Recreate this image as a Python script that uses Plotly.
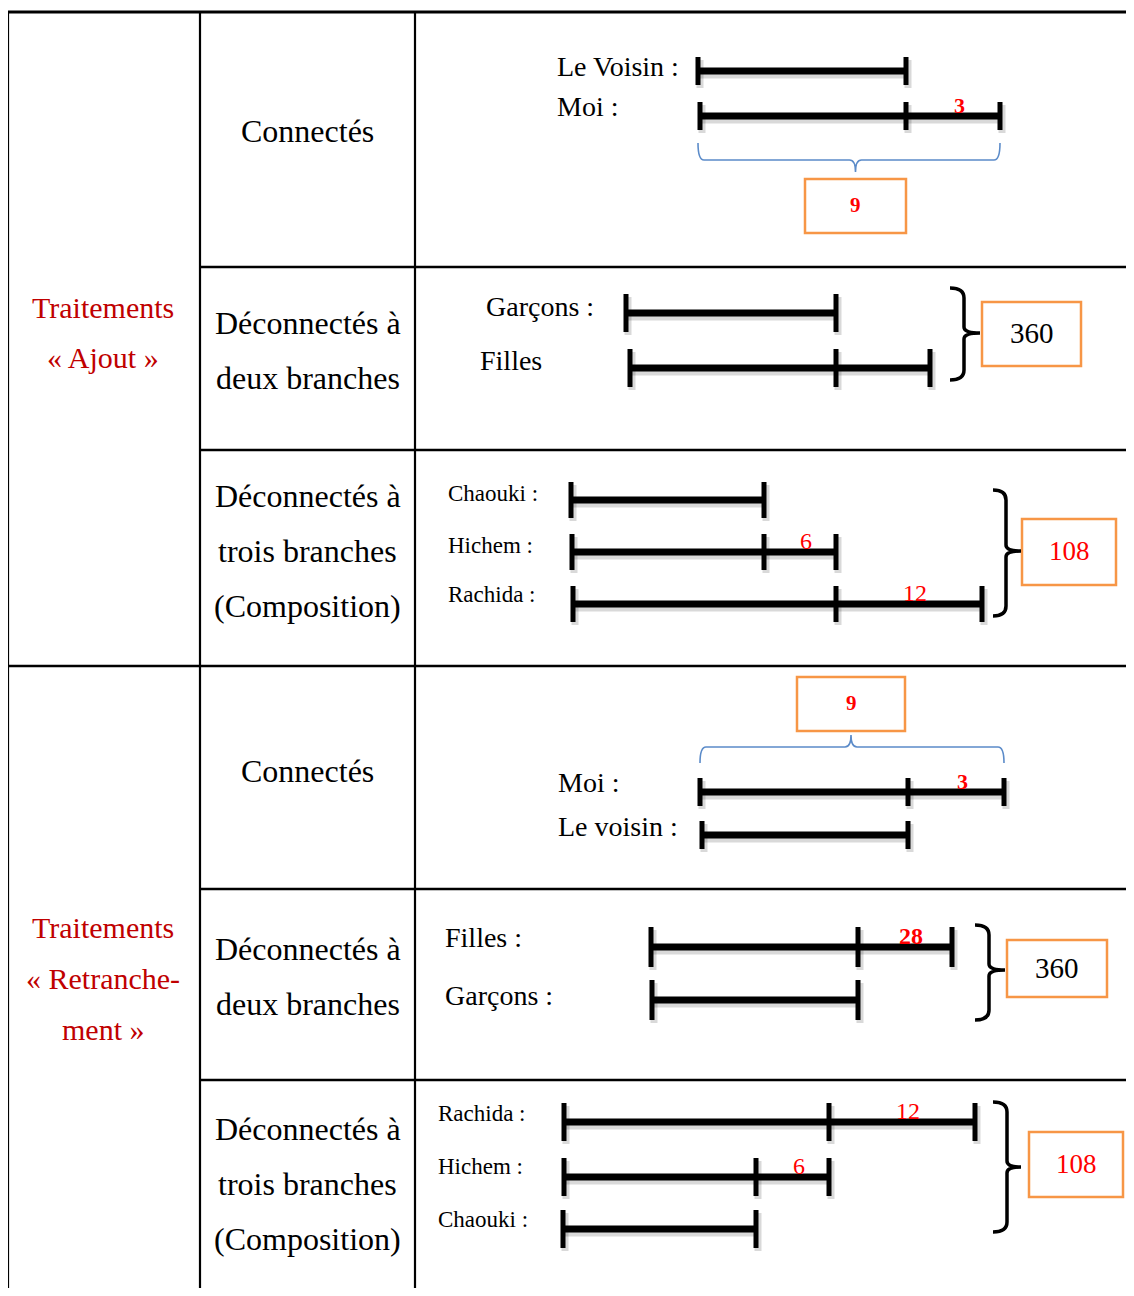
import plotly.graph_objects as go

# ---------------- DATA ----------------
# Left column (treatment groups)
group_labels = [["Traitements", "« Ajout »"],
                ["Traitements", "« Retranche-", "ment »"]]
# Middle column (cell types)
cell_labels = [["Connectés"],
               ["Déconnectés à", "deux branches"],
               ["Déconnectés à", "trois branches", "(Composition)"],
               ["Connectés"],
               ["Déconnectés à", "deux branches"],
               ["Déconnectés à", "trois branches", "(Composition)"]]

# Diagram rows: names, bar start, common part end, bar end, difference label
r1_names = ["Le Voisin :", "Moi :"]
r1_start = [698, 700]
r1_common = [906, 906]
r1_end = [906, 1000]
r1_diff = ["", "3"]
r1_total = "9"

r2_names = ["Garçons :", "Filles"]
r2_start = [626, 630]
r2_common = [836, 836]
r2_end = [836, 930]
r2_diff = ["", ""]
r2_total = "360"

r3_names = ["Chaouki :", "Hichem :", "Rachida :"]
r3_start = [571, 572, 573]
r3_common = [764, 764, 836]
r3_end = [764, 836, 982]
r3_diff = ["", "6", "12"]
r3_total = "108"

r4_names = ["Moi :", "Le voisin :"]
r4_start = [700, 702]
r4_common = [908, 908]
r4_end = [1004, 908]
r4_diff = ["3", ""]
r4_total = "9"

r5_names = ["Filles :", "Garçons :"]
r5_start = [651, 652]
r5_common = [858, 858]
r5_end = [952, 858]
r5_diff = ["28", ""]
r5_total = "360"

r6_names = ["Rachida :", "Hichem :", "Chaouki :"]
r6_start = [564, 564, 563]
r6_common = [829, 756, 756]
r6_end = [975, 829, 756]
r6_diff = ["12", "6", ""]
r6_total = "108"

# ---------------- LAYOUT CONSTANTS ----------------
W, H = 1134, 1296
PAGE_MARGIN = 8  # browser body margin
X_LEFT, X_C1, X_C2, X_RIGHT = 8, 200, 415, 1134
ROW_Y = [12, 267, 450, 666, 889, 1080, 1296]

RED_DARK = "#C00000"
RED = "#FF0000"
ORANGE = "#F79646"
BLUE = "#5B8BC9"
SERIF = "Liberation Serif, Times New Roman, serif"

panels = [
    dict(names=r1_names, start=r1_start, common=r1_common, end=r1_end, diff=r1_diff, total=r1_total,
         y=[71, 116], ly=[66, 106], lx=[555, 555], lsize=28, th=14, dsize=22, dbold=True,
         total_style="blue_below", box=(805, 179, 906, 233), tsize=21, tcolor=RED, tbold=True),
    dict(names=r2_names, start=r2_start, common=r2_common, end=r2_end, diff=r2_diff, total=r2_total,
         y=[313, 368], ly=[306, 360], lx=[484, 478], lsize=28, th=19, dsize=22, dbold=False,
         total_style="black", bx=(950, 964, 980), by=(288, 333, 380), box=(982, 302, 1081, 366),
         tsize=29, tcolor="black", tbold=False),
    dict(names=r3_names, start=r3_start, common=r3_common, end=r3_end, diff=r3_diff, total=r3_total,
         y=[500, 552, 604], ly=[493, 545, 594], lx=[446, 446, 446], lsize=23, th=18, dsize=24, dbold=False,
         total_style="black", bx=(993, 1006, 1021), by=(490, 551, 616), box=(1022, 519, 1116, 585),
         tsize=27, tcolor=RED, tbold=False),
    dict(names=r4_names, start=r4_start, common=r4_common, end=r4_end, diff=r4_diff, total=r4_total,
         y=[792, 835], ly=[782, 826], lx=[556, 556], lsize=28, th=14, dsize=22, dbold=True,
         total_style="blue_above", box=(797, 677, 905, 731), tsize=21, tcolor=RED, tbold=True),
    dict(names=r5_names, start=r5_start, common=r5_common, end=r5_end, diff=r5_diff, total=r5_total,
         y=[947, 1000], ly=[937, 995], lx=[443, 443], lsize=28, th=20, dsize=24, dbold=True,
         total_style="black", bx=(975, 989, 1005), by=(925, 970, 1020), box=(1007, 940, 1107, 997),
         tsize=29, tcolor="black", tbold=False),
    dict(names=r6_names, start=r6_start, common=r6_common, end=r6_end, diff=r6_diff, total=r6_total,
         y=[1122, 1177, 1229], ly=[1113, 1166, 1219], lx=[436, 436, 436], lsize=23, th=19, dsize=24, dbold=False,
         total_style="black", bx=(993, 1007, 1021), by=(1102, 1167, 1232), box=(1029, 1132, 1123, 1197),
         tsize=27, tcolor=RED, tbold=False),
]

fig = go.Figure()
shapes = []
annotations = []

# ---------------- TABLE GRID ----------------
def hline(y, x0, x1, w=2.2):
    shapes.append(dict(type="line", xref="x", yref="y", x0=x0, x1=x1, y0=y, y1=y,
                       line=dict(color="black", width=w)))

def vline(x, y0, y1, w=2.2):
    shapes.append(dict(type="line", xref="x", yref="y", x0=x, x1=x, y0=y0, y1=y1,
                       line=dict(color="black", width=w)))

hline(ROW_Y[0], X_LEFT, X_RIGHT, 3)
for i, y in enumerate(ROW_Y[1:-1], start=1):
    if i == 3:
        hline(y, X_LEFT, X_RIGHT, 2.5)
    else:
        hline(y, X_C1, X_RIGHT, 2.5)
vline(X_LEFT, ROW_Y[0], H)
vline(X_C1, ROW_Y[0], H)
vline(X_C2, ROW_Y[0], H)

# ---------------- LEFT COLUMN TEXT ----------------
group_centers = [[307, 357], [927, 978, 1029]]
for lines, ys in zip(group_labels, group_centers):
    for t, y in zip(lines, ys):
        annotations.append(dict(x=(X_LEFT + X_C1) / 2 - 1, y=y, text=t, showarrow=False,
                                xanchor="center", yanchor="middle",
                                font=dict(family=SERIF, size=30, color=RED_DARK)))

# ---------------- MIDDLE COLUMN TEXT ----------------
cell_centers = [[131], [323, 378], [496, 551, 606], [771], [949, 1004], [1129, 1184, 1239]]
for lines, ys in zip(cell_labels, cell_centers):
    for t, y in zip(lines, ys):
        annotations.append(dict(x=(X_C1 + X_C2) / 2, y=y, text=t, showarrow=False,
                                xanchor="center", yanchor="middle",
                                font=dict(family=SERIF, size=32, color="black")))

# ---------------- DIAGRAMS ----------------
for p in panels:
    n = len(p["names"])
    for i in range(n):
        y = p["y"][i]
        xs, xc, xe = p["start"][i], p["common"][i], p["end"][i]
        ticks = [xs, xc] if xc == xe else [xs, xc, xe]
        # soft shadow
        tx, ty = [], []
        for t in ticks:
            tx += [t + 2, t + 2, None]
            ty += [y - p["th"] + 3, y + p["th"] + 3, None]
        fig.add_trace(go.Scatter(x=[xs + 2, xe + 2], y=[y + 3, y + 3], mode="lines",
                                 line=dict(color="rgba(0,0,0,0.15)", width=9), hoverinfo="skip"))
        fig.add_trace(go.Scatter(x=tx, y=ty, mode="lines",
                                 line=dict(color="rgba(0,0,0,0.15)", width=7), hoverinfo="skip"))
        # bar
        fig.add_trace(go.Scatter(x=[xs, xe], y=[y, y], mode="lines",
                                 line=dict(color="black", width=7), hoverinfo="skip"))
        tx, ty = [], []
        for t in ticks:
            tx += [t, t, None]
            ty += [y - p["th"], y + p["th"], None]
        fig.add_trace(go.Scatter(x=tx, y=ty, mode="lines",
                                 line=dict(color="black", width=5), hoverinfo="skip"))
        # name label
        annotations.append(dict(x=p["lx"][i], y=p["ly"][i], text=p["names"][i], showarrow=False,
                                xanchor="left", yanchor="middle",
                                font=dict(family=SERIF, size=p["lsize"], color="black")))
        # difference label
        if p["diff"][i]:
            d = p["diff"][i]
            txt = f"<b>{d}</b>" if p["dbold"] else d
            annotations.append(dict(x=(xc + xe) / 2 + 6, y=y - 11, text=txt, showarrow=False,
                                    xanchor="center", yanchor="middle",
                                    font=dict(family=SERIF, size=p["dsize"], color=RED)))

    # total brace + box
    bx0, by0, bx1, by1 = p["box"]
    shapes.append(dict(type="rect", xref="x", yref="y", x0=bx0, x1=bx1, y0=by0, y1=by1,
                       line=dict(color=ORANGE, width=2.5), fillcolor="white"))
    ttxt = f"<b>{p['total']}</b>" if p["tbold"] else p["total"]
    annotations.append(dict(x=(bx0 + bx1) / 2, y=(by0 + by1) / 2 - 1, text=ttxt, showarrow=False,
                            xanchor="center", yanchor="middle",
                            font=dict(family=SERIF, size=p["tsize"], color=p["tcolor"])))

    if p["total_style"].startswith("blue"):
        xa = min(p["start"])
        xb = max(p["end"])
        xm = (bx0 + bx1) / 2
        r = 6
        if p["total_style"] == "blue_below":
            ya, yb, yt = 143, 160, 172
        else:
            ya, yb, yt = 763, 747, 735
        path = (f"M {xa},{ya} Q {xa},{yb} {xa + r},{yb} L {xm - r},{yb} "
                f"Q {xm},{yb} {xm},{yt} Q {xm},{yb} {xm + r},{yb} L {xb - r},{yb} "
                f"Q {xb},{yb} {xb},{ya}")
        shapes.append(dict(type="path", xref="x", yref="y", path=path,
                           line=dict(color=BLUE, width=1.6)))
    else:
        ex, vx, tx_ = p["bx"]
        ty0, tm, ty1 = p["by"]
        r = 10
        path = (f"M {ex},{ty0} Q {vx},{ty0} {vx},{ty0 + r} L {vx},{tm - 6} "
                f"Q {vx},{tm} {tx_},{tm} Q {vx},{tm} {vx},{tm + 6} L {vx},{ty1 - r} "
                f"Q {vx},{ty1} {ex},{ty1}")
        shapes.append(dict(type="path", xref="x", yref="y", path=path,
                           line=dict(color="black", width=3.5)))

# Figure is placed after the page's 8px body margin; axis ranges compensate so
# that one data unit equals one screen pixel at the intended page position.
FIG_W = W - PAGE_MARGIN
FIG_H = H - 2 * PAGE_MARGIN
fig.update_layout(
    width=FIG_W, height=FIG_H,
    margin=dict(l=0, r=0, t=0, b=0),
    paper_bgcolor="white", plot_bgcolor="white",
    showlegend=False,
    xaxis=dict(range=[PAGE_MARGIN, PAGE_MARGIN + FIG_W], visible=False, fixedrange=True),
    yaxis=dict(range=[PAGE_MARGIN + FIG_H, PAGE_MARGIN], visible=False, fixedrange=True),
    shapes=shapes, annotations=annotations,
)

fig.write_html("out.html", config=dict(displayModeBar=False))
